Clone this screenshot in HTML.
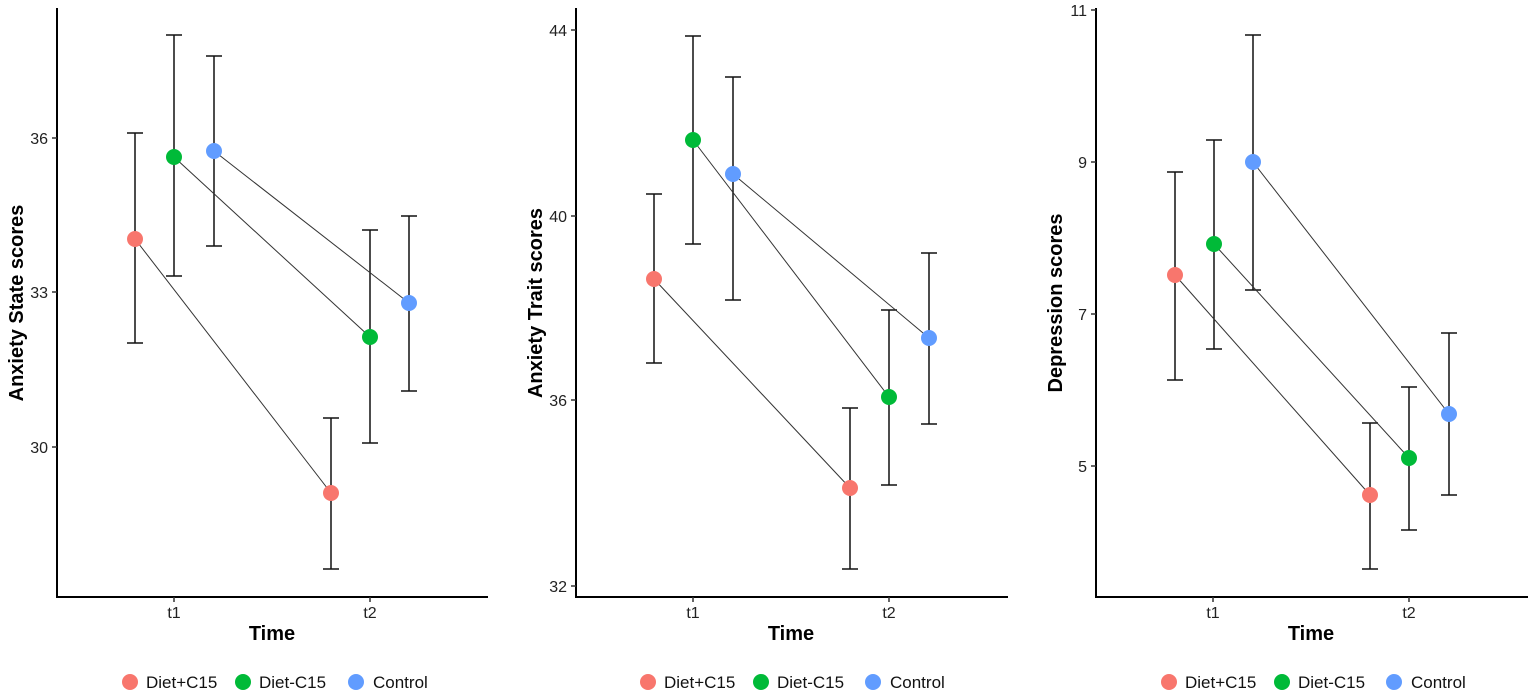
<!DOCTYPE html>
<html><head><meta charset="utf-8"><style>
html,body{margin:0;padding:0;background:#fff}
svg{display:block;font-family:"Liberation Sans",sans-serif}
.ax{stroke:#000;stroke-width:2;fill:none}
.tk{stroke:#333;stroke-width:1.5}
.eb{stroke:#111;stroke-width:1.5;fill:none}
.ln{stroke:#333;stroke-width:1;fill:none}
.tl{font-size:16px;fill:#222}
.tt{font-size:20px;font-weight:bold;fill:#000}
.lg{font-size:17px;fill:#111}
</style></head><body>
<svg width="1535" height="695" viewBox="0 0 1535 695">
<g>
<path class="ax" d="M57,8 V597 H488"/>
<line class="tk" x1="52" y1="138" x2="57" y2="138"/><line class="tk" x1="52" y1="292" x2="57" y2="292"/><line class="tk" x1="52" y1="447" x2="57" y2="447"/>
<text class="tl" x="48" y="144" text-anchor="end">36</text>
<text class="tl" x="48" y="298" text-anchor="end">33</text>
<text class="tl" x="48" y="453" text-anchor="end">30</text>
<line class="tk" x1="174" y1="597" x2="174" y2="602"/><line class="tk" x1="370" y1="597" x2="370" y2="602"/>
<text class="tl" x="174" y="618" text-anchor="middle">t1</text>
<text class="tl" x="370" y="618" text-anchor="middle">t2</text>
<text class="tt" x="272" y="640" text-anchor="middle">Time</text>
<text class="tt" transform="translate(23,303) rotate(-90)" text-anchor="middle">Anxiety State scores</text>
<path class="eb" d="M135,133V343M127,133H143M127,343H143"/>
<path class="eb" d="M174,35V276M166,35H182M166,276H182"/>
<path class="eb" d="M214,56V246M206,56H222M206,246H222"/>
<path class="eb" d="M331,418V569M323,418H339M323,569H339"/>
<path class="eb" d="M370,230V443M362,230H378M362,443H378"/>
<path class="eb" d="M409,216V391M401,216H417M401,391H417"/>
<line class="ln" x1="135" y1="239" x2="331" y2="493"/>
<line class="ln" x1="174" y1="157" x2="370" y2="337"/>
<line class="ln" x1="214" y1="151" x2="409" y2="303"/>
<circle cx="135" cy="239" r="8" fill="#F8766D"/><circle cx="331" cy="493" r="8" fill="#F8766D"/>
<circle cx="174" cy="157" r="8" fill="#00BA38"/><circle cx="370" cy="337" r="8" fill="#00BA38"/>
<circle cx="214" cy="151" r="8" fill="#619CFF"/><circle cx="409" cy="303" r="8" fill="#619CFF"/>
<circle cx="130" cy="682" r="8" fill="#F8766D"/><text class="lg" x="146" y="688">Diet+C15</text>
<circle cx="243" cy="682" r="8" fill="#00BA38"/><text class="lg" x="259" y="688">Diet-C15</text>
<circle cx="356" cy="682" r="8" fill="#619CFF"/><text class="lg" x="373" y="688">Control</text>
</g>
<g>
<path class="ax" d="M576,8 V597 H1008"/>
<line class="tk" x1="571" y1="30" x2="576" y2="30"/><line class="tk" x1="571" y1="216" x2="576" y2="216"/><line class="tk" x1="571" y1="400" x2="576" y2="400"/><line class="tk" x1="571" y1="586" x2="576" y2="586"/>
<text class="tl" x="567" y="36" text-anchor="end">44</text>
<text class="tl" x="567" y="222" text-anchor="end">40</text>
<text class="tl" x="567" y="406" text-anchor="end">36</text>
<text class="tl" x="567" y="592" text-anchor="end">32</text>
<line class="tk" x1="693" y1="597" x2="693" y2="602"/><line class="tk" x1="889" y1="597" x2="889" y2="602"/>
<text class="tl" x="693" y="618" text-anchor="middle">t1</text>
<text class="tl" x="889" y="618" text-anchor="middle">t2</text>
<text class="tt" x="791" y="640" text-anchor="middle">Time</text>
<text class="tt" transform="translate(542,303) rotate(-90)" text-anchor="middle">Anxiety Trait scores</text>
<path class="eb" d="M654,194V363M646,194H662M646,363H662"/>
<path class="eb" d="M693,36V244M685,36H701M685,244H701"/>
<path class="eb" d="M733,77V300M725,77H741M725,300H741"/>
<path class="eb" d="M850,408V569M842,408H858M842,569H858"/>
<path class="eb" d="M889,310V485M881,310H897M881,485H897"/>
<path class="eb" d="M929,253V424M921,253H937M921,424H937"/>
<line class="ln" x1="654" y1="279" x2="850" y2="488"/>
<line class="ln" x1="693" y1="140" x2="889" y2="397"/>
<line class="ln" x1="733" y1="174" x2="929" y2="338"/>
<circle cx="654" cy="279" r="8" fill="#F8766D"/><circle cx="850" cy="488" r="8" fill="#F8766D"/>
<circle cx="693" cy="140" r="8" fill="#00BA38"/><circle cx="889" cy="397" r="8" fill="#00BA38"/>
<circle cx="733" cy="174" r="8" fill="#619CFF"/><circle cx="929" cy="338" r="8" fill="#619CFF"/>
<circle cx="648" cy="682" r="8" fill="#F8766D"/><text class="lg" x="664" y="688">Diet+C15</text>
<circle cx="761" cy="682" r="8" fill="#00BA38"/><text class="lg" x="777" y="688">Diet-C15</text>
<circle cx="873" cy="682" r="8" fill="#619CFF"/><text class="lg" x="890" y="688">Control</text>
</g>
<g>
<path class="ax" d="M1096,8 V597 H1528"/>
<line class="tk" x1="1091" y1="10" x2="1096" y2="10"/><line class="tk" x1="1091" y1="162" x2="1096" y2="162"/><line class="tk" x1="1091" y1="314" x2="1096" y2="314"/><line class="tk" x1="1091" y1="466" x2="1096" y2="466"/>
<text class="tl" x="1087" y="16" text-anchor="end">11</text>
<text class="tl" x="1087" y="168" text-anchor="end">9</text>
<text class="tl" x="1087" y="320" text-anchor="end">7</text>
<text class="tl" x="1087" y="472" text-anchor="end">5</text>
<line class="tk" x1="1213" y1="597" x2="1213" y2="602"/><line class="tk" x1="1409" y1="597" x2="1409" y2="602"/>
<text class="tl" x="1213" y="618" text-anchor="middle">t1</text>
<text class="tl" x="1409" y="618" text-anchor="middle">t2</text>
<text class="tt" x="1311" y="640" text-anchor="middle">Time</text>
<text class="tt" transform="translate(1062,303) rotate(-90)" text-anchor="middle">Depression scores</text>
<path class="eb" d="M1175,172V380M1167,172H1183M1167,380H1183"/>
<path class="eb" d="M1214,140V349M1206,140H1222M1206,349H1222"/>
<path class="eb" d="M1253,35V290M1245,35H1261M1245,290H1261"/>
<path class="eb" d="M1370,423V569M1362,423H1378M1362,569H1378"/>
<path class="eb" d="M1409,387V530M1401,387H1417M1401,530H1417"/>
<path class="eb" d="M1449,333V495M1441,333H1457M1441,495H1457"/>
<line class="ln" x1="1175" y1="275" x2="1370" y2="495"/>
<line class="ln" x1="1214" y1="244" x2="1409" y2="458"/>
<line class="ln" x1="1253" y1="162" x2="1449" y2="414"/>
<circle cx="1175" cy="275" r="8" fill="#F8766D"/><circle cx="1370" cy="495" r="8" fill="#F8766D"/>
<circle cx="1214" cy="244" r="8" fill="#00BA38"/><circle cx="1409" cy="458" r="8" fill="#00BA38"/>
<circle cx="1253" cy="162" r="8" fill="#619CFF"/><circle cx="1449" cy="414" r="8" fill="#619CFF"/>
<circle cx="1169" cy="682" r="8" fill="#F8766D"/><text class="lg" x="1185" y="688">Diet+C15</text>
<circle cx="1282" cy="682" r="8" fill="#00BA38"/><text class="lg" x="1298" y="688">Diet-C15</text>
<circle cx="1394" cy="682" r="8" fill="#619CFF"/><text class="lg" x="1411" y="688">Control</text>
</g>
</svg>
</body></html>
